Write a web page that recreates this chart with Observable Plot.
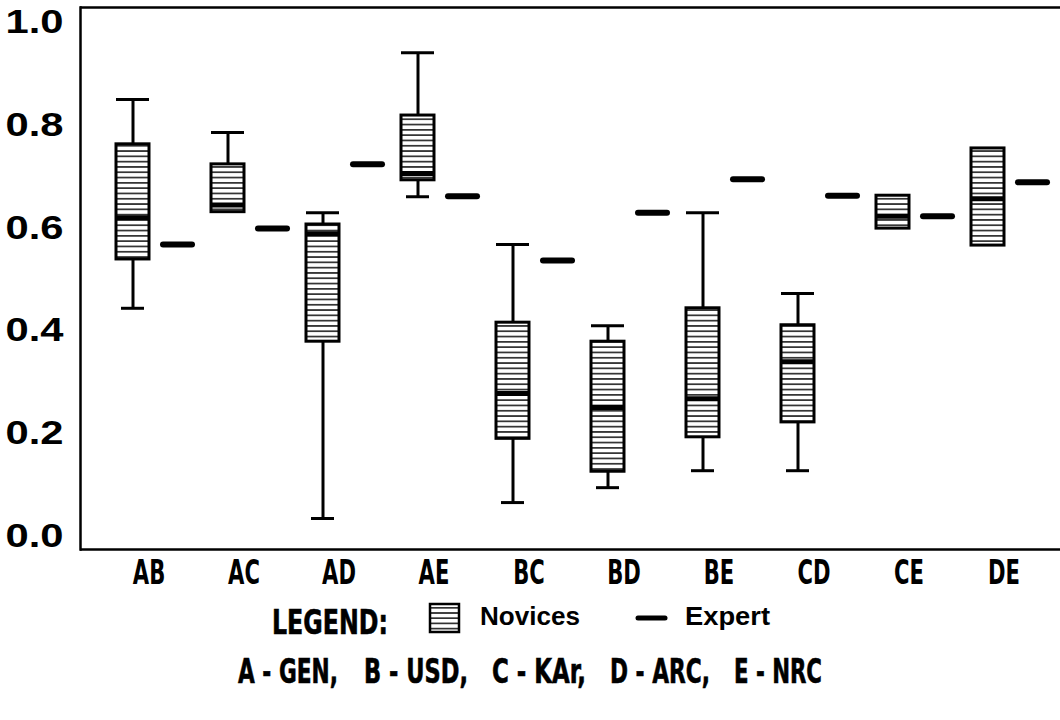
<!DOCTYPE html>
<html><head><meta charset="utf-8">
<script src="https://cdn.jsdelivr.net/npm/d3@7"></script>
<script src="https://cdn.jsdelivr.net/npm/@observablehq/plot@0.6"></script>
<style>
body{margin:0;background:#fff;}
#wrap{position:relative;width:1060px;height:720px;overflow:hidden;background:#fff;}
#chart svg{display:block;}
.cond{font-family:"Liberation Sans Narrow","DejaVu Sans Condensed","DejaVu Sans",sans-serif;font-weight:bold;stroke:#000;stroke-width:0.6px;}
.sans{font-family:"Liberation Sans",Arial,sans-serif;font-weight:bold;}
</style></head><body>
<div id="wrap">
<div id="chart"></div>
<svg id="legend" width="1060" height="120" style="display:block">
  <defs>
    <pattern id="hatchL" patternUnits="userSpaceOnUse" width="8" height="5.2">
      <rect width="8" height="5.2" fill="#fff"/>
      <line x1="0" x2="8" y1="2.6" y2="2.6" stroke="#111" stroke-width="1.5"/>
    </pattern>
  </defs>
  <text class="cond fit" data-x="272" data-y="34" data-w="116" font-size="34" fill="#000">LEGEND:</text>
  <rect x="430" y="4" width="29" height="28" fill="url(#hatchL)" stroke="#000" stroke-width="2.5"/>
  <text class="sans fit" data-x="480" data-y="25" data-w="100" font-size="25" fill="#000">Novices</text>
  <line x1="638" x2="665" y1="18" y2="18" stroke="#000" stroke-width="5" stroke-linecap="round"/>
  <text class="sans fit" data-x="685" data-y="25" data-w="85" font-size="25" fill="#000">Expert</text>
  <text class="cond fit" data-x="238" data-y="83" data-w="100" font-size="34" fill="#000">A - GEN,</text>
  <text class="cond fit" data-x="364" data-y="83" data-w="104" font-size="34" fill="#000">B - USD,</text>
  <text class="cond fit" data-x="492" data-y="83" data-w="94" font-size="34" fill="#000">C - KAr,</text>
  <text class="cond fit" data-x="610" data-y="83" data-w="100" font-size="34" fill="#000">D - ARC,</text>
  <text class="cond fit" data-x="734" data-y="83" data-w="88" font-size="34" fill="#000">E - NRC</text>
</svg>
</div>
<script>
// Data
const pairs       = ["AB","AC","AD","AE","BC","BD","BE","CD","CE","DE"];
const whiskerLow  = [0.444, 0.631, 0.035, 0.661, 0.066, 0.095, 0.128, 0.128, 0.599, 0.566];
const q1          = [0.539, 0.631, 0.379, 0.693, 0.190, 0.126, 0.193, 0.222, 0.599, 0.566];
const median      = [0.620, 0.645, 0.589, 0.706, 0.278, 0.251, 0.268, 0.340, 0.623, 0.657];
const q3          = [0.763, 0.724, 0.607, 0.819, 0.416, 0.379, 0.444, 0.411, 0.663, 0.755];
const whiskerHigh = [0.850, 0.786, 0.630, 0.941, 0.568, 0.410, 0.630, 0.473, 0.663, 0.755];
const expert      = [0.568, 0.599, 0.724, 0.662, 0.537, 0.630, 0.695, 0.663, 0.623, 0.689];
const yTicks      = [0.0, 0.2, 0.4, 0.6, 0.8, 1.0];
const yDomain     = [-0.0253, 1.0292];

const rows = pairs.map((p, i) => ({
  pair: p, lo: whiskerLow[i], q1: q1[i], med: median[i], q3: q3[i], hi: whiskerHigh[i], exp: expert[i]
}));

const BOX_DX = -16, EXP_DX = 29;
const condFont = "Liberation Sans Narrow, DejaVu Sans Condensed, DejaVu Sans, sans-serif";

const chart = Plot.plot({
  width: 1060, height: 600,
  marginLeft: 80, marginRight: 0, marginTop: 7, marginBottom: 51,
  x: {domain: pairs, range: [100.4, 1052.4], paddingInner: 0.6534, paddingOuter: 0.3267},
  y: {domain: yDomain},
  marks: [
    Plot.ruleY([yDomain[0]], {stroke: "#000", strokeWidth: 2.5}),
    Plot.ruleY([yDomain[1]], {stroke: "#000", strokeWidth: 2.5}),
    Plot.frame({anchor: "left", stroke: "#000", strokeWidth: 2.5}),
    Plot.axisY(yTicks, {anchor: "left", tickSize: 0, tickPadding: 17, tickFormat: d => d.toFixed(1),
      fontSize: 33, fontWeight: "bold", fontFamily: "Liberation Sans, Arial, sans-serif", fill: "#000", label: null}),
    Plot.axisX({anchor: "bottom", tickSize: 0, tickPadding: 10, fontSize: 34, fontWeight: "bold",
      fontFamily: condFont, fill: "#000", stroke: "#000", strokeWidth: 0.6, label: null}),
    // whiskers
    Plot.ruleX(rows.filter(d => d.lo < d.q1), {x: "pair", y1: "lo", y2: "q1", dx: BOX_DX, stroke: "#000", strokeWidth: 3}),
    Plot.ruleX(rows.filter(d => d.hi > d.q3), {x: "pair", y1: "q3", y2: "hi", dx: BOX_DX, stroke: "#000", strokeWidth: 3}),
    Plot.tickY(rows.filter(d => d.lo < d.q1), {x: "pair", y: "lo", dx: BOX_DX, stroke: "#000", strokeWidth: 3, inset: 5}),
    Plot.tickY(rows.filter(d => d.hi > d.q3), {x: "pair", y: "hi", dx: BOX_DX, stroke: "#000", strokeWidth: 3}),
    // boxes
    Plot.barY(rows, {x: "pair", y1: "q1", y2: "q3", dx: BOX_DX, fill: "url(#hatch)", stroke: "#000", strokeWidth: 3}),
    Plot.tickY(rows, {x: "pair", y: "med", dx: BOX_DX, stroke: "#000", strokeWidth: 5}),
    // expert
    Plot.tickY(rows, {x: "pair", y: "exp", dx: EXP_DX, stroke: "#000", strokeWidth: 6, strokeLinecap: "round", inset: 2})
  ]
});

const svg = d3.select(chart);
const defs = svg.insert("defs", ":first-child");
const pat = defs.append("pattern").attr("id", "hatch").attr("patternUnits", "userSpaceOnUse")
  .attr("width", 8).attr("height", 5.3);
pat.append("rect").attr("width", 8).attr("height", 5.3).attr("fill", "#fff");
pat.append("line").attr("x1", 0).attr("x2", 8).attr("y1", 2.65).attr("y2", 2.65)
  .attr("stroke", "#111").attr("stroke-width", 1.5);

document.getElementById("chart").appendChild(chart);

// condense the axis text to match the narrow lettering of the original
svg.selectAll("[aria-label='x-axis tick label'] text").each(function() {
  const w = this.getComputedTextLength();
  d3.select(this).attr("textLength", w * 0.69).attr("lengthAdjust", "spacingAndGlyphs");
});
svg.selectAll("[aria-label='y-axis tick label'] text")
  .attr("textLength", 58).attr("lengthAdjust", "spacingAndGlyphs");

// legend texts: squeeze horizontally to the widths seen in the original
d3.selectAll("#legend text.fit").each(function() {
  const w = this.getComputedTextLength();
  const s = (+this.dataset.w) / w;
  d3.select(this).attr("transform", `translate(${this.dataset.x},${this.dataset.y}) scale(${s},1)`);
});
</script>
</body></html>
